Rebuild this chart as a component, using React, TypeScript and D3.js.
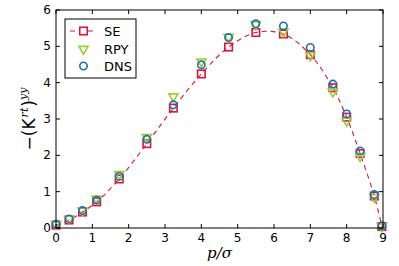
import React, { useEffect, useRef } from "react";
import * as d3 from "d3";

// p/sigma positions
const pos = [0, 0.36, 0.73, 1.12, 1.74, 2.5, 3.23, 4.0, 4.75, 5.5, 6.26, 7.0, 7.62, 8.0, 8.37, 8.76, 8.97];
const seVals = [0.08, 0.22, 0.44, 0.72, 1.35, 2.32, 3.3, 4.24, 4.98, 5.38, 5.34, 4.77, 3.86, 3.05, 2.05, 0.88, 0.04];
const rpyVals = [0.1, 0.25, 0.48, 0.8, 1.48, 2.5, 3.62, 4.58, 5.26, 5.6, 5.4, 4.75, 3.75, 2.95, 1.98, 0.85, 0.04];
const dnsVals = [0.1, 0.25, 0.48, 0.77, 1.42, 2.44, 3.39, 4.49, 5.24, 5.62, 5.56, 4.97, 3.96, 3.14, 2.12, 0.92, 0.06];
const xTicks = [0, 1, 2, 3, 4, 5, 6, 7, 8, 9];
const yTicks = [0, 1, 2, 3, 4, 5, 6];

const W = 399;
const H = 266;
const m = { left: 56, right: 16, top: 10, bottom: 38 };

const RED = "#dc143c";
const GREEN = "#9acd32";
const BLUE = "#1f6fb0";

function App() {
  const ref = useRef<SVGSVGElement>(null);

  useEffect(() => {
    const svg = d3.select(ref.current);
    svg.selectAll("*").remove();

    const x = d3.scaleLinear().domain([0, 9]).range([m.left, W - m.right]);
    const y = d3.scaleLinear().domain([0, 6]).range([H - m.bottom, m.top]);
    const font = "'DejaVu Sans', sans-serif";

    const g = svg.append("g");

    // dashed SE curve
    const line = d3.line<number>()
      .x((d, i) => x(pos[i]))
      .y(d => y(d))
      .curve(d3.curveCatmullRom);
    g.append("path")
      .attr("d", line(seVals))
      .attr("fill", "none")
      .attr("stroke", RED)
      .attr("stroke-width", 1.1)
      .attr("stroke-dasharray", "5,4");

    const sq = 7.5;
    g.selectAll("rect.se").data(seVals).enter().append("rect")
      .attr("x", (d, i) => x(pos[i]) - sq / 2)
      .attr("y", d => y(d) - sq / 2)
      .attr("width", sq).attr("height", sq)
      .attr("fill", "none").attr("stroke", RED).attr("stroke-width", 1.6);

    const tri = d3.symbol().type(d3.symbolTriangle).size(36);
    g.selectAll("path.rpy").data(rpyVals).enter().append("path")
      .attr("d", tri)
      .attr("transform", (d, i) => `translate(${x(pos[i])},${y(d)}) rotate(180)`)
      .attr("fill", "none").attr("stroke", GREEN).attr("stroke-width", 1.6);

    g.selectAll("circle.dns").data(dnsVals).enter().append("circle")
      .attr("cx", (d, i) => x(pos[i]))
      .attr("cy", d => y(d))
      .attr("r", 3.7)
      .attr("fill", "none").attr("stroke", BLUE).attr("stroke-width", 1.6);

    // frame
    svg.append("rect")
      .attr("x", m.left).attr("y", m.top)
      .attr("width", W - m.left - m.right).attr("height", H - m.top - m.bottom)
      .attr("fill", "none").attr("stroke", "#000").attr("stroke-width", 1);

    // ticks (inward, all sides)
    const tl = 4;
    const tk = svg.append("g").attr("stroke", "#000").attr("stroke-width", 1);
    xTicks.forEach(t => {
      tk.append("line").attr("x1", x(t)).attr("x2", x(t)).attr("y1", y(0)).attr("y2", y(0) - tl);
      tk.append("line").attr("x1", x(t)).attr("x2", x(t)).attr("y1", y(6)).attr("y2", y(6) + tl);
    });
    yTicks.forEach(t => {
      tk.append("line").attr("x1", x(0)).attr("x2", x(0) + tl).attr("y1", y(t)).attr("y2", y(t));
      tk.append("line").attr("x1", x(9)).attr("x2", x(9) - tl).attr("y1", y(t)).attr("y2", y(t));
    });

    svg.selectAll("text.xt").data(xTicks).enter().append("text")
      .attr("x", d => x(d)).attr("y", y(0) + 14)
      .attr("text-anchor", "middle")
      .attr("font-family", font).attr("font-size", 12)
      .text(d => d);

    svg.selectAll("text.yt").data(yTicks).enter().append("text")
      .attr("x", x(0) - 5).attr("y", d => y(d) + 4)
      .attr("text-anchor", "end")
      .attr("font-family", font).attr("font-size", 12)
      .text(d => d);

    // x label
    svg.append("text")
      .attr("x", (x(0) + x(9)) / 2).attr("y", 258)
      .attr("text-anchor", "middle")
      .attr("font-family", "'DejaVu Serif', serif").attr("font-style", "italic")
      .attr("font-size", 15)
      .text("p/σ");

    // y label
    const yl = svg.append("text")
      .attr("transform", `translate(35,${(y(0) + y(6)) / 2}) rotate(-90)`)
      .attr("text-anchor", "middle")
      .attr("font-family", font).attr("font-size", 17);
    yl.append("tspan").text("−(K");
    yl.append("tspan").attr("dx", 1).attr("dy", -7).attr("font-size", 11).attr("font-style", "italic")
      .attr("font-family", "'DejaVu Serif', serif").text("rt");
    yl.append("tspan").attr("dx", 1).attr("dy", 7).text(")");
    yl.append("tspan").attr("dy", -8).attr("font-size", 11).attr("font-style", "italic")
      .attr("font-family", "'DejaVu Serif', serif").text("yy");

    // legend
    const lg = svg.append("g");
    lg.append("rect").attr("x", 65).attr("y", 19).attr("width", 71).attr("height", 59)
      .attr("fill", "#fff").attr("stroke", "#000").attr("stroke-width", 1);
    const ent = [
      { name: "SE", yy: 31 },
      { name: "RPY", yy: 49 },
      { name: "DNS", yy: 66 },
    ];
    lg.append("line").attr("x1", 70).attr("x2", 97).attr("y1", 31).attr("y2", 31)
      .attr("stroke", RED).attr("stroke-width", 1.1).attr("stroke-dasharray", "5,4");
    lg.append("rect").attr("x", 83.5 - sq / 2).attr("y", 31 - sq / 2).attr("width", sq).attr("height", sq)
      .attr("fill", "#fff").attr("stroke", RED).attr("stroke-width", 1.6);
    lg.append("path").attr("d", tri).attr("transform", "translate(83.5,49) rotate(180)")
      .attr("fill", "none").attr("stroke", GREEN).attr("stroke-width", 1.6);
    lg.append("circle").attr("cx", 83.5).attr("cy", 66).attr("r", 3.7)
      .attr("fill", "none").attr("stroke", BLUE).attr("stroke-width", 1.6);
    lg.selectAll("text").data(ent).enter().append("text")
      .attr("x", 104).attr("y", d => d.yy + 5)
      .attr("font-family", font).attr("font-size", 13)
      .text(d => d.name);
  }, []);

  return (
    <svg ref={ref} width={W} height={H}
      style={{ position: "absolute", left: 0, top: 0, background: "#fff" }} />
  );
}

export default App;
